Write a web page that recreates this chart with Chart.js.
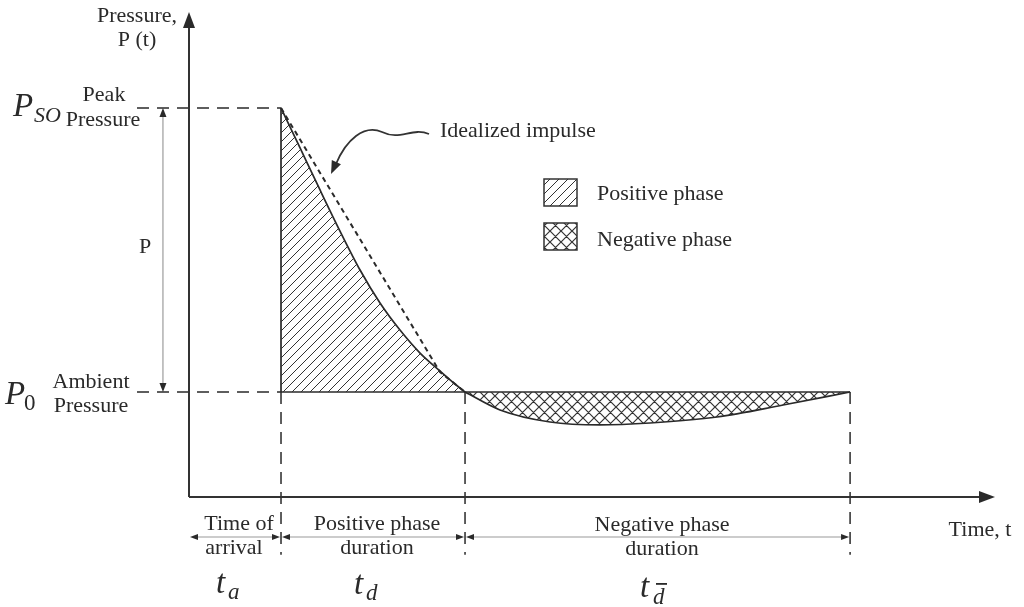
<!DOCTYPE html>
<html>
<head>
<meta charset="utf-8">
<script src="https://cdn.jsdelivr.net/npm/chart.js@4/dist/chart.umd.min.js"></script>
<style>
  html, body { margin: 0; padding: 0; background: #fff; }
  canvas { display: block; }
</style>
</head>
<body>
<canvas id="blast-chart" width="1024" height="607"></canvas>
<script>
// key times (arbitrary units) and pressures (P0 = 1)
const arrival_time = 1;
const positive_end = 3;
const negative_end = 7.185;
const ambient_pressure = 1;
const peak_pressure = 3.705;

// positive phase decay curve
const positive_time = [1, 1.207, 1.424, 1.641, 1.859, 2.076, 2.293, 2.511, 2.728, 2.891, 3];
const positive_pressure = [3.705, 3.324, 2.924, 2.533, 2.162, 1.848, 1.59, 1.371, 1.2, 1.076, 1];

// negative phase (suction) curve
const negative_time = [3, 3.38, 3.924, 4.467, 5.011, 5.739, 6.457, 7.185];
const negative_pressure = [1, 0.829, 0.714, 0.686, 0.705, 0.762, 0.876, 1];

// idealized (triangular) impulse
const ideal_time = [1, 2.728, 3];
const ideal_pressure = [3.705, 1.19, 1];

// where the dashed guides start / end
const guide_left = -0.565;
const guide_bottom = -0.55;

const ink = "#2a2a2a";
const serif = "'Liberation Serif', 'DejaVu Serif', serif";

function toPoints(xs, ys){
    return xs.map((x, i) => ({x: x, y: ys[i]}));
}

//hatch pattern, single diagonal or crossed
function makeHatch(size, cross, width){
    let c = document.createElement("canvas");
    c.width = size;
    c.height = size;
    let g = c.getContext("2d");
    g.strokeStyle = "#333";
    g.lineWidth = width;
    g.beginPath();
    g.moveTo(-1, size + 1); g.lineTo(size + 1, -1);
    g.moveTo(-size / 2 - 1, size / 2 + 1); g.lineTo(size / 2 + 1, -size / 2 - 1);
    g.moveTo(size / 2 - 1, size * 1.5 + 1); g.lineTo(size * 1.5 + 1, size / 2 - 1);
    if (cross) {
        g.moveTo(-1, -1); g.lineTo(size + 1, size + 1);
        g.moveTo(-size / 2 - 1, size / 2 - 1); g.lineTo(size / 2 + 1, size * 1.5 + 1);
        g.moveTo(size / 2 - 1, -size / 2 - 1); g.lineTo(size * 1.5 + 1, size / 2 + 1);
    }
    g.stroke();
    return g.createPattern(c, "repeat");
}

const ctx0 = document.getElementById("blast-chart").getContext("2d");
const positive_hatch = makeHatch(9, false, 1);
const negative_hatch = makeHatch(11, true, 1.2);

function guide(points, dash, width){
    return {
        data: points,
        borderColor: ink,
        borderWidth: width || 1.5,
        borderDash: dash,
        pointRadius: 0,
        fill: false,
        clip: false,
        tension: 0
    };
}

// arrowhead helper
function arrowHead(g, x, y, ang, len, half){
    g.beginPath();
    g.moveTo(x, y);
    g.lineTo(x - len * Math.cos(ang) + half * Math.sin(ang), y - len * Math.sin(ang) - half * Math.cos(ang));
    g.lineTo(x - len * Math.cos(ang) - half * Math.sin(ang), y - len * Math.sin(ang) + half * Math.cos(ang));
    g.closePath();
    g.fill();
}

function text(g, str, x, y, size, align, italic){
    g.font = (italic ? "italic " : "") + size + "px " + serif;
    g.textAlign = align || "center";
    g.fillText(str, x, y);
}

//draw axes, labels, legend and dimension arrows
const annotations = {
    id: "annotations",
    afterDraw(chart){
        let g = chart.ctx;
        let a = chart.chartArea;
        let xs = chart.scales.x, ys = chart.scales.y;
        let px = v => xs.getPixelForValue(v);
        let py = v => ys.getPixelForValue(v);
        let yPeak = py(peak_pressure), yAmb = py(ambient_pressure);
        g.save();
        g.fillStyle = ink;
        g.strokeStyle = "#333";
        g.lineWidth = 2;

        // axes with arrows
        g.beginPath();
        g.moveTo(a.left, a.bottom); g.lineTo(a.left, a.top + 10);
        g.moveTo(a.left, a.bottom); g.lineTo(a.right - 10, a.bottom);
        g.stroke();
        arrowHead(g, a.left, a.top, -Math.PI / 2, 16, 6);
        arrowHead(g, a.right, a.bottom, 0, 16, 6);

        g.textBaseline = "alphabetic";
        // axis titles
        text(g, "Pressure,", a.left - 52, 22, 22);
        text(g, "P (t)", a.left - 52, 46, 22);
        text(g, "Time, t", 980, 536, 22);

        // peak / ambient labels
        text(g, "Peak", 104, yPeak - 7, 22);
        text(g, "Pressure", 103, yPeak + 18, 22);
        text(g, "Ambient", 91, yAmb - 4, 22);
        text(g, "Pressure", 91, yAmb + 20, 22);

        text(g, "P", 13, yPeak + 8, 33, "left", true);
        text(g, "SO", 34, yPeak + 14, 22, "left", true);
        text(g, "P", 5, yAmb + 12, 33, "left", true);
        text(g, "0", 24, yAmb + 18, 23, "left", false);

        // vertical P dimension
        let xp = px(-0.283);
        g.strokeStyle = "#888";
        g.lineWidth = 1;
        g.beginPath();
        g.moveTo(xp, yPeak + 6);
        g.lineTo(xp, yAmb - 6);
        g.stroke();
        arrowHead(g, xp, yPeak, -Math.PI / 2, 9, 3.5);
        arrowHead(g, xp, yAmb, Math.PI / 2, 9, 3.5);
        text(g, "P", 145, (yPeak + yAmb) / 2 + 3, 22);

        // idealized impulse arrow
        g.strokeStyle = "#333";
        g.lineWidth = 1.8;
        g.beginPath();
        g.moveTo(429, 134);
        g.bezierCurveTo(412, 127, 400, 141, 382, 132);
        g.bezierCurveTo(364, 124, 346, 140, 336, 164);
        g.stroke();
        arrowHead(g, 331, 174, Math.atan2(11, -5), 13, 5);
        text(g, "Idealized impulse", 440, 137, 22, "left");

        // legend
        g.lineWidth = 1.5;
        g.fillStyle = positive_hatch;
        g.fillRect(544, 179, 33, 27);
        g.strokeRect(544, 179, 33, 27);
        g.fillStyle = negative_hatch;
        g.fillRect(544, 223, 33, 27);
        g.strokeRect(544, 223, 33, 27);
        g.fillStyle = ink;
        text(g, "Positive phase", 597, 200, 22, "left");
        text(g, "Negative phase", 597, 246, 22, "left");

        // duration dimensions below the time axis
        let yd = py(-0.381);
        let spans = [[0, arrival_time], [arrival_time, positive_end], [positive_end, negative_end]];
        spans.forEach(s => {
            let x1 = px(s[0]), x2 = px(s[1]);
            g.strokeStyle = "#999";
            g.lineWidth = 1;
            g.beginPath();
            g.moveTo(x1 + 4, yd); g.lineTo(x2 - 4, yd);
            g.stroke();
            g.fillStyle = ink;
            arrowHead(g, x1 + 1, yd, Math.PI, 8, 3);
            arrowHead(g, x2 - 1, yd, 0, 8, 3);
        });
        text(g, "Time of", 239, 530, 22);
        text(g, "arrival", 234, 554, 22);
        text(g, "Positive phase", 377, 530, 22);
        text(g, "duration", 377, 554, 22);
        text(g, "Negative phase", 662, 531, 22);
        text(g, "duration", 662, 555, 22);

        // time symbols
        text(g, "t", 216, 593, 33, "left", true);
        text(g, "a", 228, 599, 23, "left", true);
        text(g, "t", 354, 594, 33, "left", true);
        text(g, "d", 366, 600, 23, "left", true);
        text(g, "t", 640, 597, 33, "left", true);
        text(g, "d", 653, 604, 23, "left", true);
        g.fillRect(656, 583, 11, 1.8);

        g.restore();
    }
};

new Chart(ctx0, {
    type: "line",
    data: {
        datasets: [
            {
                data: toPoints(positive_time, positive_pressure),
                borderColor: ink,
                borderWidth: 1.7,
                backgroundColor: positive_hatch,
                fill: {value: ambient_pressure},
                pointRadius: 0,
                cubicInterpolationMode: "monotone"
            },
            {
                data: toPoints(negative_time, negative_pressure),
                borderColor: ink,
                borderWidth: 1.7,
                backgroundColor: negative_hatch,
                fill: {value: ambient_pressure},
                pointRadius: 0,
                cubicInterpolationMode: "monotone"
            },
            guide(toPoints(ideal_time, ideal_pressure), [5, 4], 2),
            // shock front and ambient baseline
            guide([{x: arrival_time, y: ambient_pressure}, {x: arrival_time, y: peak_pressure}], [], 1.7),
            guide([{x: arrival_time, y: ambient_pressure}, {x: negative_end, y: ambient_pressure}], [], 1.7),
            // dashed reference lines
            guide([{x: guide_left, y: peak_pressure}, {x: arrival_time, y: peak_pressure}], [12, 8]),
            guide([{x: guide_left, y: ambient_pressure}, {x: arrival_time, y: ambient_pressure}], [12, 8]),
            guide([{x: arrival_time, y: ambient_pressure}, {x: arrival_time, y: guide_bottom}], [12, 8]),
            guide([{x: positive_end, y: ambient_pressure}, {x: positive_end, y: guide_bottom}], [12, 8]),
            guide([{x: negative_end, y: ambient_pressure}, {x: negative_end, y: guide_bottom}], [12, 8])
        ]
    },
    options: {
        responsive: false,
        animation: false,
        devicePixelRatio: 1,
        layout: {padding: {left: 189, right: 29, top: 12, bottom: 110}},
        scales: {
            x: {type: "linear", min: 0, max: 8.76, display: false},
            y: {type: "linear", min: 0, max: 4.619, display: false}
        },
        plugins: {
            legend: {display: false},
            tooltip: {enabled: false}
        }
    },
    plugins: [annotations]
});
</script>
</body>
</html>
